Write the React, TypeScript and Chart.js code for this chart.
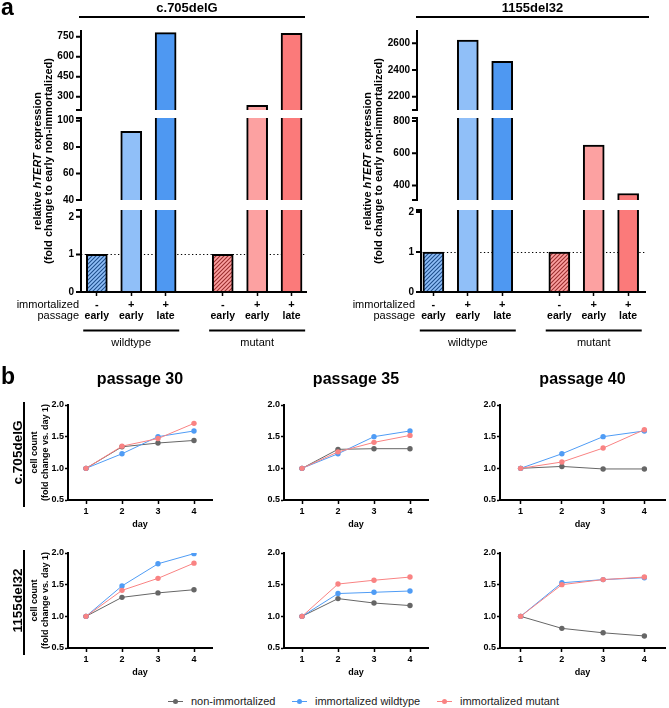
import React, { useEffect, useRef } from 'react';
import { Chart, registerables, LinearScale } from 'chart.js';

const FONT = '"Liberation Sans", Arial, Helvetica, sans-serif';

// ---------- panel a: hTERT expression ----------
const barSlots = [0, 1, 2, 3.66, 4.66, 5.66];
const groupMembers = [[0, 1, 2], [3, 4, 5]];
const immortalizedMarks = ['-', '+', '+', '-', '+', '+'];
const passageMarks = ['early', 'early', 'late', 'early', 'early', 'late'];
const genotypeGroups = ['wildtype', 'mutant'];

const c705Expression = [1, 92, 780, 1, 235, 775];
const del32Expression = [1, 2625, 2465, 1, 650, 350];

const c705Ranges = [[0, 2.18], [40, 102], [200, 800]];
const del32Ranges = [[0, 2.05], [310, 818], [2100, 2700]];
const c705TickValues = [[0, 1, 2], [40, 60, 80, 100], [300, 450, 600, 750]];
const del32TickValues = [[0, 1, 2], [400, 600, 800], [2200, 2400, 2600]];

// ---------- panel b: growth curves ----------
const days = [1, 2, 3, 4];
const passageTitles = ['passage 30', 'passage 35', 'passage 40'];
const cellLines = ['c.705delG', '1155del32'];
const seriesNames = ['non-immortalized', 'immortalized wildtype', 'immortalized mutant'];

const c705P30Non = [1.0, 1.34, 1.40, 1.44];
const c705P30Wt = [1.0, 1.23, 1.50, 1.59];
const c705P30Mut = [1.0, 1.35, 1.47, 1.71];
const c705P35Non = [1.0, 1.30, 1.31, 1.31];
const c705P35Wt = [1.0, 1.23, 1.50, 1.59];
const c705P35Mut = [1.0, 1.26, 1.41, 1.52];
const c705P40Non = [1.0, 1.03, 0.99, 0.99];
const c705P40Wt = [1.0, 1.23, 1.50, 1.59];
const c705P40Mut = [1.0, 1.10, 1.32, 1.61];
const del32P30Non = [1.0, 1.30, 1.37, 1.42];
const del32P30Wt = [1.0, 1.48, 1.83, 1.99];
const del32P30Mut = [1.0, 1.41, 1.60, 1.84];
const del32P35Non = [1.0, 1.28, 1.21, 1.17];
const del32P35Wt = [1.0, 1.36, 1.38, 1.40];
const del32P35Mut = [1.0, 1.51, 1.57, 1.62];
const del32P40Non = [1.0, 0.81, 0.74, 0.69];
const del32P40Wt = [1.0, 1.53, 1.58, 1.61];
const del32P40Mut = [1.0, 1.50, 1.58, 1.62];

const growthSeries = [
  [
    [c705P30Non, c705P30Wt, c705P30Mut],
    [c705P35Non, c705P35Wt, c705P35Mut],
    [c705P40Non, c705P40Wt, c705P40Mut],
  ],
  [
    [del32P30Non, del32P30Wt, del32P30Mut],
    [del32P35Non, del32P35Wt, del32P35Mut],
    [del32P40Non, del32P40Wt, del32P40Mut],
  ],
];

const GRAY = '#666666';
const BLUE = '#4f9cf5';
const PINK = '#f98383';
const LIGHT_BLUE = '#90bff8';
const MID_BLUE = '#4e98f2';
const LIGHT_PINK = '#fca1a1';
const MID_PINK = '#fb7a7a';

// Linear scale whose range is split into stacked segments separated by gaps.
class BrokenLinearScale extends LinearScale {
  static id = 'brokenLinear';
  static defaults = {};

  segmentSpans() {
    const o: any = this.options;
    const ranges: number[][] = o.segments;
    const sizes: number[] = o.segmentSizes;
    const gaps: number[] = o.gapSizes;
    const spans: { min: number; max: number; bottom: number; top: number }[] = [];
    let base = (this as any).bottom;
    ranges.forEach((r, i) => {
      const top = base - sizes[i];
      spans.push({ min: r[0], max: r[1], bottom: base, top });
      base = top - (gaps[i] || 0);
    });
    return spans;
  }

  getPixelForValue(value: number) {
    const spans = this.segmentSpans();
    for (let i = 0; i < spans.length; i++) {
      const s = spans[i];
      if (value < s.min) return s.bottom;
      if (value <= s.max || i === spans.length - 1) {
        return s.bottom - ((value - s.min) / (s.max - s.min)) * (s.bottom - s.top);
      }
    }
    return (this as any).top;
  }

  getValueForPixel(pixel: number) {
    const spans = this.segmentSpans();
    for (const s of spans) {
      if (pixel <= s.bottom && pixel >= s.top) {
        return s.min + ((s.bottom - pixel) / (s.bottom - s.top)) * (s.max - s.min);
      }
    }
    return pixel > spans[0].bottom ? spans[0].min : spans[spans.length - 1].max;
  }
}

Chart.register(...registerables, BrokenLinearScale as any);
Chart.defaults.font.family = FONT;
Chart.defaults.color = '#000';

function hatch(base: string, stripe: string): CanvasPattern {
  const c = document.createElement('canvas');
  const n = 4;
  c.width = n;
  c.height = n;
  const g = c.getContext('2d')!;
  g.fillStyle = base;
  g.fillRect(0, 0, n, n);
  g.strokeStyle = stripe;
  g.lineWidth = 1.1;
  g.beginPath();
  g.moveTo(-1, n + 1);
  g.lineTo(n + 1, -1);
  g.moveTo(-1, 1);
  g.lineTo(1, -1);
  g.moveTo(n - 1, n + 1);
  g.lineTo(n + 1, n - 1);
  g.stroke();
  return g.createPattern(c, 'repeat')!;
}

function rotatedText(ctx: CanvasRenderingContext2D, parts: [string, string][], x: number, y: number) {
  ctx.save();
  ctx.translate(x, y);
  ctx.rotate(-Math.PI / 2);
  ctx.textAlign = 'left';
  ctx.textBaseline = 'alphabetic';
  const widths = parts.map(([t, f]) => {
    ctx.font = f;
    return ctx.measureText(t).width;
  });
  const total = widths.reduce((s, w) => s + w, 0);
  let cx = -total / 2;
  parts.forEach(([t, f], i) => {
    ctx.font = f;
    ctx.fillText(t, cx, 0);
    cx += widths[i];
  });
  ctx.restore();
}

const BAR_H = 360;
const AREA_TOP = 30;
const AREA_BOTTOM = 292;
const SEG_SIZES = [82, 82, 80];
const GAP_SIZES = [10, 8];

type BarPanelProps = {
  left: number;
  width: number;
  title: string;
  titleX: number;
  ruleFrom: number;
  ruleTo: number;
  areaLeft: number;
  areaRight: number;
  upperAxisShift: number;
  xMin: number;
  xMax: number;
  values: number[];
  ranges: number[][];
  tickValues: number[][];
  yLabelX: number[];
  rowLabelRight: number;
  letter?: string;
};

function barDecor(p: BarPanelProps) {
  return {
    id: 'barDecor',
    beforeDatasetsDraw(chart: any) {
      const { ctx, chartArea: a } = chart;
      const py = Math.round(chart.scales.y.getPixelForValue(1)) + 0.5;
      ctx.save();
      ctx.strokeStyle = '#000';
      ctx.lineWidth = 1.2;
      ctx.setLineDash([1.3, 2.4]);
      ctx.beginPath();
      ctx.moveTo(a.left, py);
      ctx.lineTo(a.right, py);
      ctx.stroke();
      ctx.restore();
    },
    afterDatasetsDraw(chart: any) {
      const { ctx, chartArea: a } = chart;
      const y = chart.scales.y;
      const spans = y.segmentSpans();
      ctx.save();
      ctx.fillStyle = '#fff';
      for (let i = 0; i < spans.length - 1; i++) {
        ctx.fillRect(a.left - 8, spans[i + 1].bottom, a.right - a.left + 10, spans[i].top - spans[i + 1].bottom);
      }
      ctx.strokeStyle = '#000';
      ctx.lineWidth = 2;
      ctx.beginPath();
      ctx.moveTo(a.left - 1, a.bottom);
      ctx.lineTo(a.right, a.bottom);
      ctx.stroke();
      ctx.fillStyle = '#000';
      ctx.font = `bold 10px ${FONT}`;
      ctx.textAlign = 'right';
      ctx.textBaseline = 'middle';
      spans.forEach((s: any, i: number) => {
        const ax = i === 0 ? a.left : a.left - p.upperAxisShift;
        ctx.beginPath();
        ctx.moveTo(ax, i === 0 ? a.bottom + 1 : s.bottom);
        ctx.lineTo(ax, s.top);
        if (i > 0) {
          ctx.moveTo(ax - 5, s.bottom);
          ctx.lineTo(ax + 1, s.bottom);
        }
        if (i < spans.length - 1) {
          ctx.moveTo(ax - 5, s.top);
          ctx.lineTo(ax + 1, s.top);
        }
        p.tickValues[i].forEach((v) => {
          const ty = y.getPixelForValue(v);
          ctx.moveTo(ax - 5, ty);
          ctx.lineTo(ax, ty);
        });
        ctx.stroke();
        p.tickValues[i].forEach((v) => ctx.fillText(String(v), ax - 7, y.getPixelForValue(v)));
      });
      ctx.restore();
    },
    afterDraw(chart: any) {
      const { ctx, chartArea: a } = chart;
      const x = chart.scales.x;
      ctx.save();
      ctx.fillStyle = '#000';
      ctx.strokeStyle = '#000';
      ctx.textBaseline = 'alphabetic';
      if (p.letter) {
        ctx.font = `bold 23px ${FONT}`;
        ctx.textAlign = 'left';
        ctx.fillText(p.letter, 1, 15);
      }
      ctx.font = `bold 13px ${FONT}`;
      ctx.textAlign = 'center';
      ctx.fillText(p.title, p.titleX, 11.5);
      ctx.lineWidth = 2;
      ctx.beginPath();
      ctx.moveTo(p.ruleFrom, 17);
      ctx.lineTo(p.ruleTo, 17);
      ctx.stroke();

      const mid = (a.top + a.bottom) / 2;
      const b11 = `bold 11px ${FONT}`;
      rotatedText(ctx, [['relative ', b11], ['hTERT', `italic bold 11px ${FONT}`], [' expression', b11]], p.yLabelX[0], mid);
      rotatedText(ctx, [['(fold change to early non-immortalized)', b11]], p.yLabelX[1], mid);

      ctx.font = `11px ${FONT}`;
      ctx.textAlign = 'right';
      ctx.fillText('immortalized', p.rowLabelRight, 308);
      ctx.fillText('passage', p.rowLabelRight, 319);
      ctx.textAlign = 'center';
      ctx.font = `bold 11px ${FONT}`;
      barSlots.forEach((s, i) => ctx.fillText(immortalizedMarks[i], x.getPixelForValue(s), 308));
      ctx.font = `bold 10.5px ${FONT}`;
      barSlots.forEach((s, i) => ctx.fillText(passageMarks[i], x.getPixelForValue(s), 319));

      ctx.font = `11px ${FONT}`;
      groupMembers.forEach((m, g) => {
        const c = (x.getPixelForValue(barSlots[m[0]]) + x.getPixelForValue(barSlots[m[m.length - 1]])) / 2;
        ctx.beginPath();
        ctx.moveTo(c - 48, 330.5);
        ctx.lineTo(c + 48, 330.5);
        ctx.stroke();
        ctx.fillText(genotypeGroups[g], c, 346);
      });
      ctx.restore();
    },
  };
}

function BarPanel(p: BarPanelProps) {
  const ref = useRef<HTMLCanvasElement>(null);
  useEffect(() => {
    const canvas = ref.current!;
    const fills = [
      hatch(LIGHT_BLUE, '#1f4f8c'),
      LIGHT_BLUE,
      MID_BLUE,
      hatch(LIGHT_PINK, '#9a2f2f'),
      LIGHT_PINK,
      MID_PINK,
    ];
    const chart = new Chart(canvas, {
      type: 'bar',
      data: {
        datasets: [
          {
            data: barSlots.map((s, i) => ({ x: s, y: p.values[i] })),
            backgroundColor: fills,
            borderColor: '#000',
            borderWidth: 2,
            borderSkipped: 'bottom',
            barThickness: 21,
          } as any,
        ],
      },
      options: {
        responsive: false,
        animation: false,
        devicePixelRatio: 1,
        events: [],
        layout: { padding: { left: 0, top: AREA_TOP, right: p.width - p.areaRight, bottom: 0 } },
        plugins: { legend: { display: false }, tooltip: { enabled: false } },
        scales: {
          x: {
            type: 'linear',
            min: p.xMin,
            max: p.xMax,
            offset: false,
            afterBuildTicks: (s: any) => {
              s.ticks = barSlots.map((v) => ({ value: v }));
            },
            afterFit: (s: any) => {
              s.height = BAR_H - AREA_BOTTOM;
            },
            ticks: { display: false },
            grid: {
              display: true,
              offset: false,
              drawOnChartArea: false,
              drawTicks: true,
              tickLength: 4,
              tickWidth: 1.5,
              tickColor: '#000',
            },
            border: { display: true, color: '#000', width: 2 },
          },
          y: {
            type: 'brokenLinear',
            min: 0,
            max: p.ranges[p.ranges.length - 1][1],
            segments: p.ranges,
            segmentSizes: SEG_SIZES,
            gapSizes: GAP_SIZES,
            afterFit: (s: any) => {
              s.width = p.areaLeft;
            },
            ticks: { display: false },
            grid: { display: false },
            border: { display: false },
          } as any,
        },
      } as any,
      plugins: [barDecor(p)],
    });
    return () => chart.destroy();
  }, []);
  return (
    <canvas
      ref={ref}
      width={p.width}
      height={BAR_H}
      style={{ position: 'absolute', left: p.left, top: 0, width: p.width, height: BAR_H }}
    />
  );
}

const CELL_W = 216;
const CELL_H = 175;
const PLOT_TOP = 45;
const PLOT_H = 95;
const AXIS_X = 68;
const PLOT_W = 167;

function growthDecor(col: number, row: number) {
  return {
    id: 'growthDecor',
    afterDraw(chart: any) {
      const { ctx, chartArea: a } = chart;
      const mid = (a.top + a.bottom) / 2;
      ctx.save();
      ctx.fillStyle = '#000';
      ctx.strokeStyle = '#000';
      ctx.textAlign = 'center';
      ctx.textBaseline = 'middle';
      ctx.font = `bold 9px ${FONT}`;
      ctx.fillText('day', (a.left + a.right) / 2, a.bottom + 24.5);
      ctx.textBaseline = 'alphabetic';
      if (row === 0) {
        ctx.font = `bold 16px ${FONT}`;
        ctx.fillText(passageTitles[col], (a.left + a.right) / 2, a.top - 21);
        if (col === 0) {
          ctx.textAlign = 'left';
          ctx.font = `bold 23px ${FONT}`;
          ctx.fillText('b', 1, a.top - 21);
          ctx.textAlign = 'center';
        }
      }
      if (col === 0) {
        const b9 = `bold 9px ${FONT}`;
        rotatedText(ctx, [['cell count', b9]], 37, mid);
        rotatedText(ctx, [['(fold change vs. day 1)', b9]], 48, mid);
        rotatedText(ctx, [[cellLines[row], `bold 13.5px ${FONT}`]], 21.5, mid);
        ctx.lineWidth = 2;
        ctx.beginPath();
        ctx.moveTo(24, a.top - 3);
        ctx.lineTo(24, a.bottom + 7);
        ctx.stroke();
      }
      ctx.restore();
    },
  };
}

function GrowthPanel({ col, row }: { col: number; row: number }) {
  const ref = useRef<HTMLCanvasElement>(null);
  const left = col * CELL_W;
  const width = col === 2 ? 669 - left : CELL_W;
  const top = row === 0 ? 360 : 508;
  useEffect(() => {
    const series = growthSeries[row][col];
    const colors = [GRAY, BLUE, PINK];
    const drawOrder = [2, 1, 0];
    const chart = new Chart(ref.current!, {
      type: 'line',
      data: {
        datasets: drawOrder.map((k) => ({
          label: seriesNames[k],
          data: days.map((d, j) => ({ x: d, y: series[k][j] })),
          borderColor: colors[k],
          backgroundColor: colors[k],
          pointBackgroundColor: colors[k],
          pointBorderWidth: 0,
          pointRadius: 2.7,
          borderWidth: 1,
          tension: 0,
        })),
      },
      options: {
        responsive: false,
        animation: false,
        devicePixelRatio: 1,
        events: [],
        layout: { padding: { left: 0, top: PLOT_TOP, right: width - (AXIS_X + PLOT_W), bottom: 0 } },
        plugins: { legend: { display: false }, tooltip: { enabled: false } },
        scales: {
          x: {
            type: 'linear',
            min: 0.5,
            max: 4.5,
            afterBuildTicks: (s: any) => {
              s.ticks = days.map((v) => ({ value: v }));
            },
            afterFit: (s: any) => {
              s.height = CELL_H - PLOT_TOP - PLOT_H;
            },
            ticks: {
              font: { size: 9, weight: 'bold' },
              color: '#000',
              padding: 2,
              maxRotation: 0,
              callback: (v: any) => String(v),
            },
            grid: { drawOnChartArea: false, drawTicks: true, tickLength: 4, tickWidth: 1.5, tickColor: '#000' },
            border: { display: true, color: '#000', width: 2 },
          },
          y: {
            type: 'linear',
            min: 0.5,
            max: 2.0,
            afterFit: (s: any) => {
              s.width = AXIS_X;
            },
            ticks: {
              stepSize: 0.5,
              font: { size: 9, weight: 'bold' },
              color: '#000',
              padding: 1,
              callback: (v: any) => Number(v).toFixed(1),
            },
            grid: { drawOnChartArea: false, drawTicks: true, tickLength: 3, tickWidth: 1.5, tickColor: '#000' },
            border: { display: true, color: '#000', width: 2 },
          },
        },
      } as any,
      plugins: [growthDecor(col, row)],
    });
    return () => chart.destroy();
  }, []);
  return (
    <canvas
      ref={ref}
      width={width}
      height={CELL_H}
      style={{ position: 'absolute', left, top, width, height: CELL_H }}
    />
  );
}

const legendColors = [GRAY, BLUE, PINK];
const legendLeft = [168, 292, 437];

export default function App() {
  return (
    <div
      style={{
        position: 'absolute',
        left: 0,
        top: 0,
        width: 669,
        height: 708,
        background: '#fff',
        overflow: 'hidden',
        fontFamily: FONT,
      }}
    >
      <BarPanel
        left={0}
        width={334}
        title="c.705delG"
        titleX={187}
        ruleFrom={79}
        ruleTo={305}
        areaLeft={81}
        areaRight={306}
        upperAxisShift={0}
        xMin={-0.46}
        xMax={6.08}
        values={c705Expression}
        ranges={c705Ranges}
        tickValues={c705TickValues}
        yLabelX={[41, 52]}
        rowLabelRight={79}
        letter="a"
      />
      <BarPanel
        left={334}
        width={335}
        title="1155del32"
        titleX={198.5}
        ruleFrom={82}
        ruleTo={315}
        areaLeft={87}
        areaRight={311}
        upperAxisShift={4}
        xMin={-0.36}
        xMax={6.15}
        values={del32Expression}
        ranges={del32Ranges}
        tickValues={del32TickValues}
        yLabelX={[37, 48]}
        rowLabelRight={81}
      />
      {[0, 1].map((row) =>
        [0, 1, 2].map((col) => <GrowthPanel key={`${row}-${col}`} col={col} row={row} />)
      )}
      {seriesNames.map((name, i) => (
        <div
          key={name}
          style={{
            position: 'absolute',
            left: legendLeft[i],
            top: 694,
            height: 14,
            display: 'flex',
            alignItems: 'center',
            font: `11px ${FONT}`,
            color: '#222',
            whiteSpace: 'nowrap',
          }}
        >
          <span style={{ position: 'relative', display: 'inline-block', width: 15, height: 14, marginRight: 8 }}>
            <span
              style={{ position: 'absolute', left: 0, width: 15, top: 6.5, height: 1, background: legendColors[i] }}
            />
            <span
              style={{
                position: 'absolute',
                left: 5,
                top: 4.5,
                width: 5,
                height: 5,
                borderRadius: '50%',
                background: legendColors[i],
              }}
            />
          </span>
          {name}
        </div>
      ))}
    </div>
  );
}
